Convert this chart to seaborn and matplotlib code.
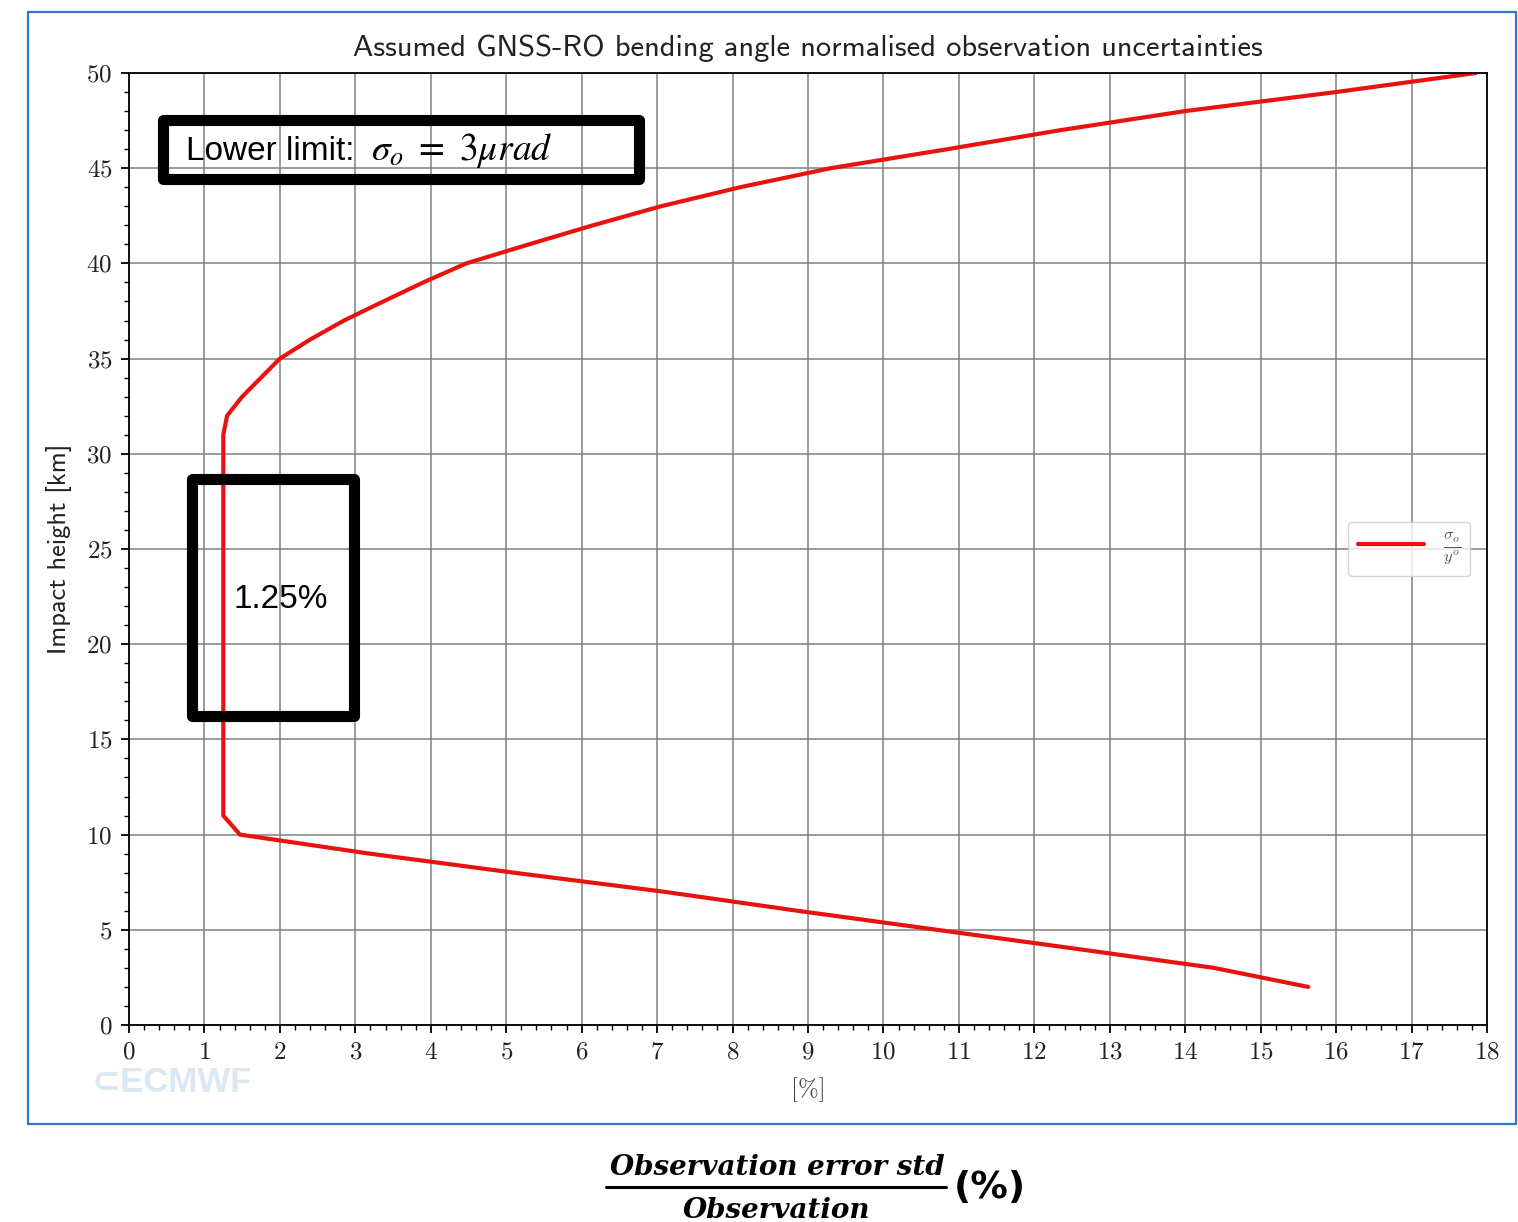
import matplotlib
matplotlib.use("Agg")
import matplotlib.pyplot as plt
from matplotlib.patches import Rectangle
from matplotlib.lines import Line2D
from matplotlib.ticker import MultipleLocator
import seaborn as sns
import pandas as pd

# ---------------- data ----------------
impact_height_km = [2, 3, 4, 5, 6, 7, 8, 9, 10, 11, 12, 13, 14, 15, 16, 17, 18, 19, 20,
                    21, 22, 23, 24, 25, 26, 27, 28, 29, 30, 31, 32, 33, 34, 35, 36, 37,
                    38, 39, 40, 41, 42, 43, 44, 45, 46, 47, 48, 49, 50]
normalised_error_pct = [15.63, 14.38, 12.56, 10.71, 8.86, 7.09, 5.10, 3.19, 1.47,
                        1.25, 1.25, 1.25, 1.25, 1.25, 1.25, 1.25, 1.25, 1.25, 1.25,
                        1.25, 1.25, 1.25, 1.25, 1.25, 1.25, 1.25, 1.25, 1.25, 1.25, 1.25,
                        1.30, 1.50, 1.75, 2.00, 2.40, 2.85, 3.37, 3.90, 4.47,
                        5.30, 6.15, 7.05, 8.10, 9.30, 10.85, 12.35, 14.00, 16.00, 17.85]
x_ticks = list(range(0, 19))
y_ticks = list(range(0, 51, 5))
title_text = "Assumed GNSS-RO bending angle normalised observation uncertainties"
legend_label = r"$\frac{\sigma_o}{y^o}$"

df = pd.DataFrame({"pct": normalised_error_pct, "h": impact_height_km})

# ---------------- figure ----------------
W, H = 1518, 1222
sns.set_theme(style="white")
plt.rcParams["mathtext.fontset"] = "cm"
plt.rcParams["axes.formatter.use_mathtext"] = True

fig = plt.figure(figsize=(W / 100, H / 100), dpi=100)
fig.patch.set_facecolor("white")


def fx(px):
    return px / W


def fy(py):
    return 1 - py / H


ax = fig.add_axes([fx(129), fy(1025), fx(1487) - fx(129), fy(73) - fy(1025)])
ax.set_facecolor("white")

sns.lineplot(data=df, x="pct", y="h", orient="y", estimator=None, ax=ax,
             color="#e8130f", lw=3.0, label=legend_label)

ax.set_xlim(0, 18)
ax.set_ylim(0, 50)
ax.set_xticks(x_ticks)
ax.set_yticks(y_ticks)
ax.xaxis.set_minor_locator(MultipleLocator(0.2))
ax.yaxis.set_minor_locator(MultipleLocator(1))
ax.grid(True, which="major", color="#808080", lw=1.1)
ax.set_axisbelow(True)
for s in ax.spines.values():
    s.set_color("black")
    s.set_linewidth(1.3)
ax.tick_params(which="major", direction="out", length=6, width=1.3, color="black",
               labelsize=18, pad=6, bottom=True, left=True)
ax.tick_params(which="minor", direction="out", length=3.5, width=1.0, color="black",
               bottom=True, left=True)
for lab in ax.get_xticklabels() + ax.get_yticklabels():
    lab.set_family("cmr10")
    lab.set_color("#222222")

ax.set_title(title_text, family="cmss10", fontsize=22, pad=12, color="#222222")
ax.set_ylabel("Impact height [km]", family="cmss10", fontsize=19, labelpad=10, color="#222222")
ax.set_xlabel("[%]", family="cmr10", fontsize=18, labelpad=10, color="#444444")

leg = ax.legend(loc="center right", fontsize=17, handlelength=2.8, frameon=True,
                borderaxespad=0.7, borderpad=0.4, fancybox=True)
leg.get_frame().set_edgecolor("#cccccc")
leg.get_frame().set_linewidth(1.0)
for t in leg.get_texts():
    t.set_color("#555555")

# ---------------- overlays ----------------
fig.patches.append(Rectangle((fx(28), fy(1124)), fx(1516) - fx(28), fy(12) - fy(1124),
                             transform=fig.transFigure, fill=False, ec="#2d78c8", lw=1.6))

fig.patches.append(Rectangle((fx(163), fy(178.5)), fx(639) - fx(163), fy(120) - fy(178.5),
                             transform=fig.transFigure, fill=False, ec="black", lw=8,
                             joinstyle="round", zorder=10))
fig.text(fx(186), fy(160), "Lower limit:", fontsize=24,
         family="Liberation Sans", ha="left", va="baseline", color="black", zorder=11)
fig.text(fx(371), fy(160), r"$\sigma_o\ =\ 3\mu rad$", fontsize=27,
         math_fontfamily="stix", ha="left", va="baseline", color="black", zorder=11)

fig.patches.append(Rectangle((fx(192), fy(716)), fx(353.5) - fx(192), fy(479.5) - fy(716),
                             transform=fig.transFigure, fill=False, ec="black", lw=8,
                             joinstyle="round", zorder=10))
fig.text(fx(281), fy(608), "1.25%", fontsize=24, family="Liberation Sans",
         ha="center", va="baseline", color="black", zorder=11)

# ECMWF watermark
fig.text(fx(92), fy(1082), "\u2282ECMWF", fontsize=25,
         family=["Liberation Sans", "DejaVu Sans"],
         fontweight="bold", color="#dbe8f3", ha="left", va="center")

# bottom formula
fig.text(fx(777), fy(1175), "Observation error std", fontsize=20, family="DejaVu Serif",
         fontweight="bold", style="italic", ha="center", va="baseline", color="black")
fig.text(fx(777), fy(1218), "Observation", fontsize=20, family="DejaVu Serif",
         fontweight="bold", style="italic", ha="center", va="baseline", color="black")
fig.lines.append(Line2D([fx(606), fx(946)], [fy(1187), fy(1187)], transform=fig.transFigure,
                        color="black", lw=2.2))
fig.text(fx(954), fy(1188), "(%)", fontsize=27, family="DejaVu Sans",
         fontweight="bold", ha="left", va="center", color="black")

fig.savefig("out.png", dpi=100, facecolor="white")
